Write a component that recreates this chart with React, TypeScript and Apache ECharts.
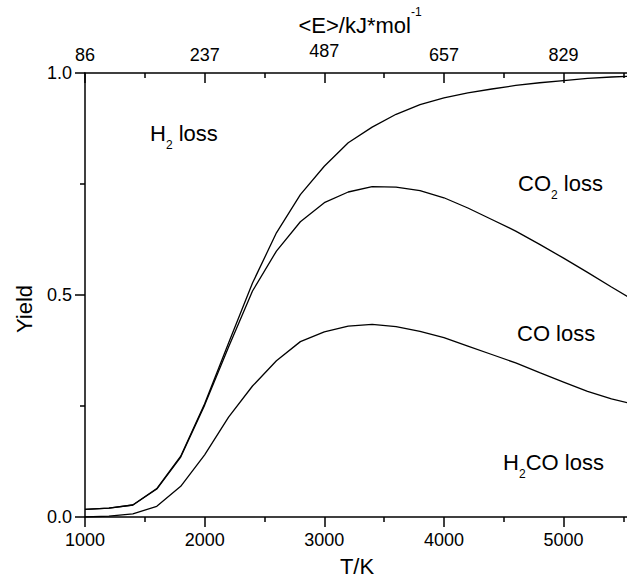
import React, { useEffect, useRef } from 'react';
import * as echarts from 'echarts';

const temperatures = [1000, 1200, 1400, 1600, 1800, 2000, 2200, 2400, 2600, 2800, 3000, 3200, 3400, 3600, 3800, 4000, 4200, 4400, 4600, 4800, 5000, 5200, 5400, 5600];
// upper boundary: H2 loss lies above this curve
const h2Boundary = [0.017, 0.02, 0.027, 0.064, 0.137, 0.255, 0.392, 0.527, 0.64, 0.726, 0.79, 0.843, 0.878, 0.907, 0.929, 0.944, 0.955, 0.964, 0.972, 0.978, 0.983, 0.988, 0.991, 0.993];
// between this and upper: CO2 loss
const co2Boundary = [0.017, 0.02, 0.027, 0.063, 0.135, 0.252, 0.383, 0.509, 0.599, 0.665, 0.708, 0.732, 0.744, 0.743, 0.735, 0.719, 0.696, 0.67, 0.644, 0.614, 0.583, 0.551, 0.518, 0.486];
// between this and CO2 boundary: CO loss; below: H2CO loss
const coBoundary = [0.0, 0.002, 0.007, 0.024, 0.069, 0.14, 0.225, 0.295, 0.352, 0.395, 0.417, 0.43, 0.434, 0.429, 0.418, 0.404, 0.385, 0.366, 0.347, 0.325, 0.304, 0.283, 0.266, 0.253];

const majorTicks = [1000, 2000, 3000, 4000, 5000];
const minorTicks = [1500, 2500, 3500, 4500, 5500];
const energyLabels = ['86', '237', '487', '657', '829'];
const yTicks = [0, 0.5, 1.0];

const FONT = 'Liberation Sans, Arial, sans-serif';

export default function App() {
  const ref = useRef<HTMLDivElement>(null);
  useEffect(() => {
    if (!ref.current) return;
    const chart = echarts.init(ref.current, undefined, { renderer: 'svg' });
    const lineStyle = { color: '#000', width: 1.5 };
    const base = { type: 'value', min: 1000, max: 5530, splitLine: { show: false } };
    const mkSeries = (name: string, arr: number[]) => ({
      name,
      type: 'line',
      xAxisIndex: 0,
      yAxisIndex: 0,
      data: temperatures.map((t, i) => [t, arr[i]]),
      showSymbol: false,
      symbol: 'none',
      clip: true,
      lineStyle: { color: '#000', width: 1.3 },
    });
    const txt = (text: string, x: number, y: number, size: number) => ({
      type: 'text',
      x,
      y,
      style: { text, fontSize: size, fontFamily: FONT, fill: '#000', textAlign: 'left', textVerticalAlign: 'middle' },
    });
    chart.setOption({
      animation: false,
      backgroundColor: '#fff',
      grid: { left: 85, right: 0, top: 73, bottom: 66 },
      xAxis: [
        {
          ...base,
          position: 'bottom',
          axisLine: { show: true, lineStyle },
          axisTick: { show: true, inside: false, length: 10, customValues: majorTicks, lineStyle },
          axisLabel: {
            show: true,
            customValues: majorTicks,
            fontSize: 18,
            fontFamily: FONT,
            color: '#000',
            margin: 14,
            formatter: (v: number) => String(v),
          },
        },
        {
          ...base,
          position: 'bottom',
          axisLine: { show: false },
          axisTick: { show: true, inside: false, length: 5, customValues: minorTicks, lineStyle },
          axisLabel: { show: false },
        },
        {
          ...base,
          position: 'top',
          axisLine: { show: true, lineStyle },
          axisTick: { show: true, inside: true, length: 10, customValues: majorTicks, lineStyle },
          axisLabel: {
            show: true,
            customValues: majorTicks,
            fontSize: 18,
            fontFamily: FONT,
            color: '#000',
            margin: 9,
            formatter: (v: number) => {
              const i = majorTicks.indexOf(v);
              if (i < 0) return '';
              return i === 2 ? '{h|' + energyLabels[i] + '}' : energyLabels[i];
            },
            rich: { h: { fontSize: 18, fontFamily: FONT, color: '#000', padding: [0, 0, 4, 0] } },
          },
        },
        {
          ...base,
          position: 'top',
          axisLine: { show: false },
          axisTick: { show: true, inside: true, length: 5, customValues: minorTicks, lineStyle },
          axisLabel: { show: false },
        },
      ],
      yAxis: {
        type: 'value',
        min: 0,
        max: 1,
        interval: 0.5,
        splitLine: { show: false },
        axisLine: { show: true, lineStyle },
        axisTick: { show: true, inside: false, length: 10, lineStyle },
        minorTick: { show: true, splitNumber: 2, length: 5, lineStyle },
        minorSplitLine: { show: false },
        axisLabel: {
          fontSize: 18,
          fontFamily: FONT,
          color: '#000',
          margin: 13,
          formatter: (v: number) => (yTicks.indexOf(v) >= 0 ? v.toFixed(1) : ''),
        },
      },
      series: [
        mkSeries('H2 boundary', h2Boundary),
        mkSeries('CO2 boundary', co2Boundary),
        mkSeries('CO boundary', coBoundary),
      ],
      graphic: [
        {
          type: 'text',
          x: 357,
          y: 566,
          style: { text: 'T/K', fontSize: 22, fontFamily: FONT, fill: '#000', textAlign: 'center', textVerticalAlign: 'middle' },
        },
        {
          type: 'text',
          x: 24,
          y: 309,
          rotation: Math.PI / 2,
          style: { text: 'Yield', fontSize: 22, fontFamily: FONT, fill: '#000', textAlign: 'center', textVerticalAlign: 'middle' },
        },
        {
          type: 'text',
          x: 360,
          y: 6,
          style: {
            text: '{m|<E>/kJ*mol}{s|-1}',
            textAlign: 'center',
            textVerticalAlign: 'top',
            rich: {
              m: { fontSize: 22, fontFamily: FONT, color: '#000', lineHeight: 30, verticalAlign: 'bottom' },
              s: { fontSize: 12, fontFamily: FONT, color: '#000', lineHeight: 12, verticalAlign: 'top' },
            },
          },
        },
        txt('H', 150, 133, 22),
        txt('2', 166, 144.5, 12),
        txt(' loss', 172.6, 133, 22),
        txt('CO', 518, 183, 22),
        txt('2', 551, 194.5, 12),
        txt(' loss', 557.7, 183, 22),
        txt('CO loss', 517, 333, 22),
        txt('H', 503, 462, 22),
        txt('2', 519, 473.5, 12),
        txt('CO loss', 525.7, 462, 22),
      ],
    });
    return () => chart.dispose();
  }, []);
  return <div ref={ref} style={{ position: 'fixed', left: 0, top: 0, width: 627, height: 583, background: '#fff' }} />;
}
